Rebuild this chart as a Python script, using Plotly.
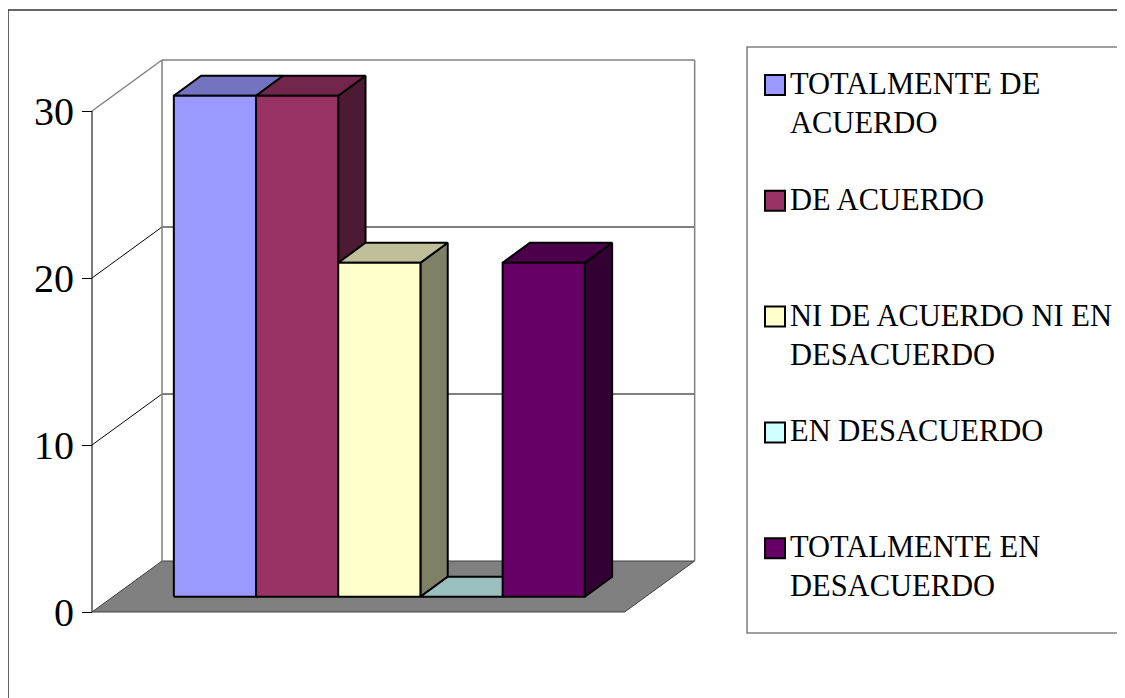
import plotly.graph_objects as go

# ---------------- data ----------------
categories = ["TOTALMENTE DE ACUERDO", "DE ACUERDO", "NI DE ACUERDO NI EN DESACUERDO",
              "EN DESACUERDO", "TOTALMENTE EN DESACUERDO"]
values = [30, 30, 20, 0, 20]
legend_lines = [["TOTALMENTE DE", "ACUERDO"], ["DE ACUERDO"],
                ["NI DE ACUERDO NI EN", "DESACUERDO"], ["EN DESACUERDO"],
                ["TOTALMENTE EN", "DESACUERDO"]]
front_colors = ["#9999FF", "#993366", "#FFFFCC", "#CCFFFF", "#660066"]
y_ticks = [0, 10, 20, 30]

# ---------------- geometry (layout) ----------------
OFF = 8                       # page body margin compensation
W, H = 1125 - OFF, 698 - OFF  # figure size
PX0, PY0 = 92 - OFF, 612 - OFF   # pixel of the front axis origin (in figure coords)
SX, SY = 82.2, 16.7       # px per category-width unit, px per value unit
L, R, T, B = 72, W, 0, 610   # plot area in figure pixels
DX, DY = 70 / SX, 51 / SY  # full-depth oblique offset in data units
FLOOR_W = 6.48
GAP = (FLOOR_W - len(values)) / 2
D0, D1 = 0.30, 0.69        # bar depth span
YMAX = max(y_ticks)
FONT = "Liberation Serif, Times New Roman, serif"


def P(u, v, d):
    return u + d * DX, v + d * DY


def shade(hexc, f):
    h = hexc.lstrip("#")
    r, g, b = (int(h[i:i + 2], 16) for i in (0, 2, 4))
    return "rgb(%d,%d,%d)" % (round(r * f), round(g * f), round(b * f))


fig = go.Figure()


def poly(pts, fill, lc="black", lw=2):
    xs = [p[0] for p in pts] + [pts[0][0]]
    ys = [p[1] for p in pts] + [pts[0][1]]
    fig.add_trace(go.Scatter(x=xs, y=ys, mode="lines", fill="toself", fillcolor=fill,
                             line=dict(color=lc, width=lw), hoverinfo="skip", showlegend=False))


def seg(p1, p2, color, width=1):
    fig.add_trace(go.Scatter(x=[p1[0], p2[0]], y=[p1[1], p2[1]], mode="lines",
                             line=dict(color=color, width=width), hoverinfo="skip", showlegend=False))


# floor
poly([P(0, 0, 0), P(FLOOR_W, 0, 0), P(FLOOR_W, 0, 1), P(0, 0, 1)], "#808080", "#404040", 1)

# walls and gridlines
for v in y_ticks[1:]:
    c = "#808080" if v == YMAX else "black"
    w = 1.5 if v == YMAX else 1
    seg(P(0, v, 0), P(0, v, 1), c, w)
    seg(P(0, v, 1), P(FLOOR_W, v, 1), c, w)
seg(P(0, 0, 1), P(0, YMAX, 1), "#808080", 1.5)
seg(P(FLOOR_W, 0, 1), P(FLOOR_W, YMAX, 1), "#808080", 1.5)
# front value axis line
seg(P(0, 0, 0), P(0, YMAX, 0), "#202020", 1.2)

# bars
for i, (v, col) in enumerate(zip(values, front_colors)):
    u0, u1 = GAP + i, GAP + i + 1
    if v > 0:
        poly([P(u1, 0, D0), P(u1, 0, D1), P(u1, v, D1), P(u1, v, D0)], shade(col, 0.5))
    poly([P(u0, v, D0), P(u1, v, D0), P(u1, v, D1), P(u0, v, D1)], shade(col, 0.75))
    if v > 0:
        poly([P(u0, 0, D0), P(u1, 0, D0), P(u1, v, D0), P(u0, v, D0)], col)


# reference-image pixel -> paper coordinates
def px_x(px):
    return (px - OFF - L) / (R - L)


def px_y(py):
    return (B - (py - OFF)) / (B - T)


shapes = []
annotations = []
# outer frame (left and top edges)
shapes.append(dict(type="line", xref="paper", yref="paper", x0=px_x(8), x1=px_x(8),
                   y0=px_y(10), y1=px_y(700), line=dict(color="#333333", width=1.5)))
shapes.append(dict(type="line", xref="paper", yref="paper", x0=px_x(8), x1=px_x(1130),
                   y0=px_y(10), y1=px_y(10), line=dict(color="#333333", width=1.5)))
# legend box
shapes.append(dict(type="rect", xref="paper", yref="paper", x0=px_x(747), x1=px_x(1130),
                   y0=px_y(633), y1=px_y(47), line=dict(color="#808080", width=1.5),
                   fillcolor="rgba(0,0,0,0)"))

item_y0, item_step, line_step = 84, 115.8, 39
for k, (lines, col) in enumerate(zip(legend_lines, front_colors)):
    yc = item_y0 + k * item_step
    shapes.append(dict(type="rect", xref="paper", yref="paper",
                       x0=px_x(765), x1=px_x(785), y0=px_y(yc + 11), y1=px_y(yc - 9),
                       line=dict(color="black", width=2), fillcolor=col))
    for j, txt in enumerate(lines):
        annotations.append(dict(text=txt, xref="paper", yref="paper", x=px_x(788),
                                y=px_y(yc + j * line_step), xanchor="left", yanchor="middle",
                                showarrow=False, font=dict(family=FONT, size=30.5, color="black")))

fig.update_layout(
    width=W, height=H, autosize=False,
    margin=dict(l=L, r=W - R, t=T, b=H - B, pad=0),
    paper_bgcolor="white", plot_bgcolor="white",
    showlegend=False,
    xaxis=dict(range=[(L - PX0) / SX, (R - PX0) / SX], visible=False, fixedrange=True),
    yaxis=dict(range=[(PY0 - B) / SY, (PY0 - T) / SY], anchor="free",
               position=(PX0 - L) / (R - L), tickmode="array", tickvals=y_ticks,
               ticks="outside", ticklen=10, tickcolor="black", tickwidth=1,
               showgrid=False, zeroline=False, showline=False,
               tickfont=dict(family=FONT, size=40, color="black"), fixedrange=True),
    shapes=shapes, annotations=annotations,
)

fig.write_html("out.html", config={"displayModeBar": False})
